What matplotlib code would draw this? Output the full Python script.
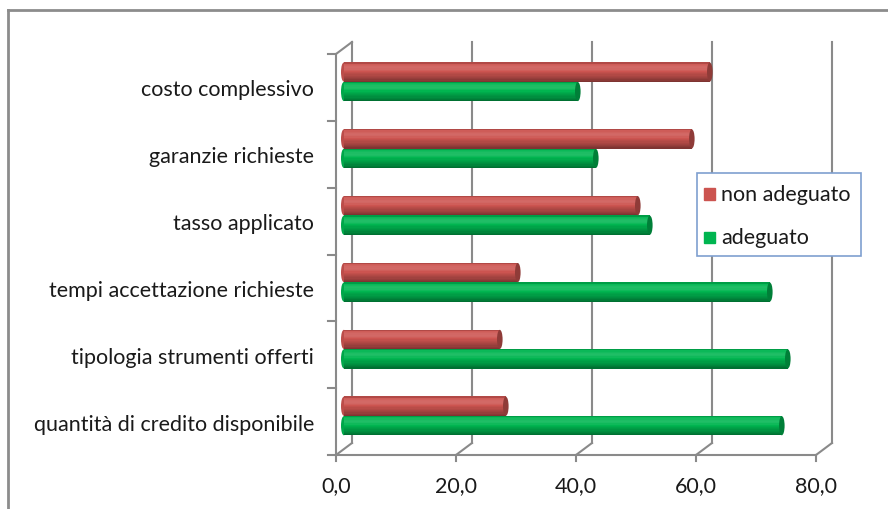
import matplotlib
matplotlib.use("Agg")
import matplotlib.pyplot as plt
from matplotlib.patches import Rectangle, Ellipse
from matplotlib.lines import Line2D
import numpy as np

# data, bottom to top as drawn
categories = ["quantità di credito disponibile", "tipologia strumenti offerti",
              "tempi accettazione richieste", "tasso applicato",
              "garanzie richieste", "costo complessivo"]
non_adeguato = [27, 26, 29, 49, 58, 61]
adeguato = [73, 74, 71, 51, 42, 39]
x_ticks = [0, 20, 40, 60, 80]
x_tick_labels = ["0,0", "20,0", "40,0", "60,0", "80,0"]
series_names = ["non adeguato", "adeguato"]

W, H = 888, 510
FONT = "Lato"
FS = 15.5
GRID = "#8a8a8a"

fig = plt.figure(figsize=(W / 100, H / 100), dpi=100)

# front plane of the 3d box
x_left, x_right = 336, 816
y_bot, y_top = 456, 55
ax = fig.add_axes([x_left / W, 1 - y_bot / H, (x_right - x_left) / W, (y_bot - y_top) / H])
ax.set_xlim(0, 80)
ax.set_ylim(0, 6)
ax.axis("off")

px_x = 80 / (x_right - x_left)      # data units per pixel
px_y = 6 / (y_bot - y_top)
DX, DY = 16 * px_x, 12 * px_y         # depth offset

# back wall gridlines + floor diagonals
for v, lab in zip(x_ticks, x_tick_labels):
    ax.plot([v + DX, v + DX], [DY, 6 + DY], color=GRID, lw=1.5, clip_on=False, zorder=1)
    ax.plot([v, v + DX], [0, DY], color=GRID, lw=1.5, clip_on=False, zorder=1)
    ax.plot([v, v], [0, -6 * px_y], color=GRID, lw=1.5, clip_on=False, zorder=1)
    ax.text(v, -30 * px_y, lab, ha="center", va="center",
            fontsize=FS, family=FONT, color="#1a1a1a")
# front axes
ax.plot([0, 80], [0, 0], color=GRID, lw=1.5, clip_on=False, zorder=1)
ax.plot([0, 0], [0, 6], color=GRID, lw=1.5, clip_on=False, zorder=1)
ax.plot([0, DX], [6, 6 + DY], color=GRID, lw=1.5, clip_on=False, zorder=1)
for k in range(7):
    ax.plot([0, -8 * px_x], [k, k], color=GRID, lw=1.5, clip_on=False, zorder=1)

# cylinder-looking bars
def shade(base, f):
    base = np.array(matplotlib.colors.to_rgb(base))
    if f >= 0:
        return base + (1 - base) * f
    return base * (1 + f)

profile_t = np.linspace(0, 1, 16)
def profile(t):
    # dark at bottom, highlight near the top, slight dark rim at top
    return -0.38 * (1 - t) ** 2.5 + 0.14 * np.exp(-((t - 0.72) / 0.2) ** 2) - 0.15 * (t > 0.94)

def cylinder(val, yc, h, base):
    x0 = 1.3
    cap = 2.8 * px_x
    ax.add_patch(Ellipse((x0, yc), 2 * cap, h * 0.98, color=shade(base, -0.08), zorder=3, lw=0))
    n = len(profile_t)
    for j, t in enumerate(profile_t):
        y0 = yc - h / 2 + j * h / n
        ax.barh(y0, val, height=h / n * 1.05, left=x0, align="edge",
                color=shade(base, profile(t)), lw=0, zorder=3)
    ax.add_patch(Ellipse((x0 + val, yc), 2 * cap, h * 0.98, color=shade(base, -0.3), zorder=4, lw=0))

RED = "#cc5450"
GREEN = "#00b550"
bh = 19.5 * px_y
for i in range(len(categories)):
    c = i + 0.584
    cylinder(non_adeguato[i], c + bh / 2, bh, RED)
    cylinder(adeguato[i], c - bh / 2, bh, GREEN)
    ax.text(-22 * px_x, i + 0.47, categories[i], ha="right", va="center",
            fontsize=FS, family=FONT, color="#1a1a1a")

# legend box
lx0, ly0, lx1, ly1 = 697, 174, 861, 257
fig.add_artist(Rectangle((lx0 / W, 1 - ly1 / H), (lx1 - lx0) / W, (ly1 - ly0) / H,
                         transform=fig.transFigure, facecolor="white", edgecolor="#7f9fd0", lw=1.2, zorder=5))
for name, col, yy in zip(series_names, [RED, GREEN], [195, 238]):
    fig.add_artist(Rectangle((704 / W, 1 - (yy + 5.5) / H), 11 / W, 11 / H,
                             transform=fig.transFigure, color=col, zorder=6))
    fig.text(721 / W, 1 - yy / H, name, ha="left", va="center", fontsize=FS,
             family=FONT, color="#1a1a1a", zorder=6)

# outer chart frame
fig.add_artist(Line2D([8 / W, 8 / W], [0, 1 - 11 / H], transform=fig.transFigure, color="#8c8c8c", lw=2))
fig.add_artist(Line2D([8 / W, 1], [1 - 11 / H, 1 - 11 / H], transform=fig.transFigure, color="#8c8c8c", lw=2))

fig.savefig("out.png", dpi=100)
